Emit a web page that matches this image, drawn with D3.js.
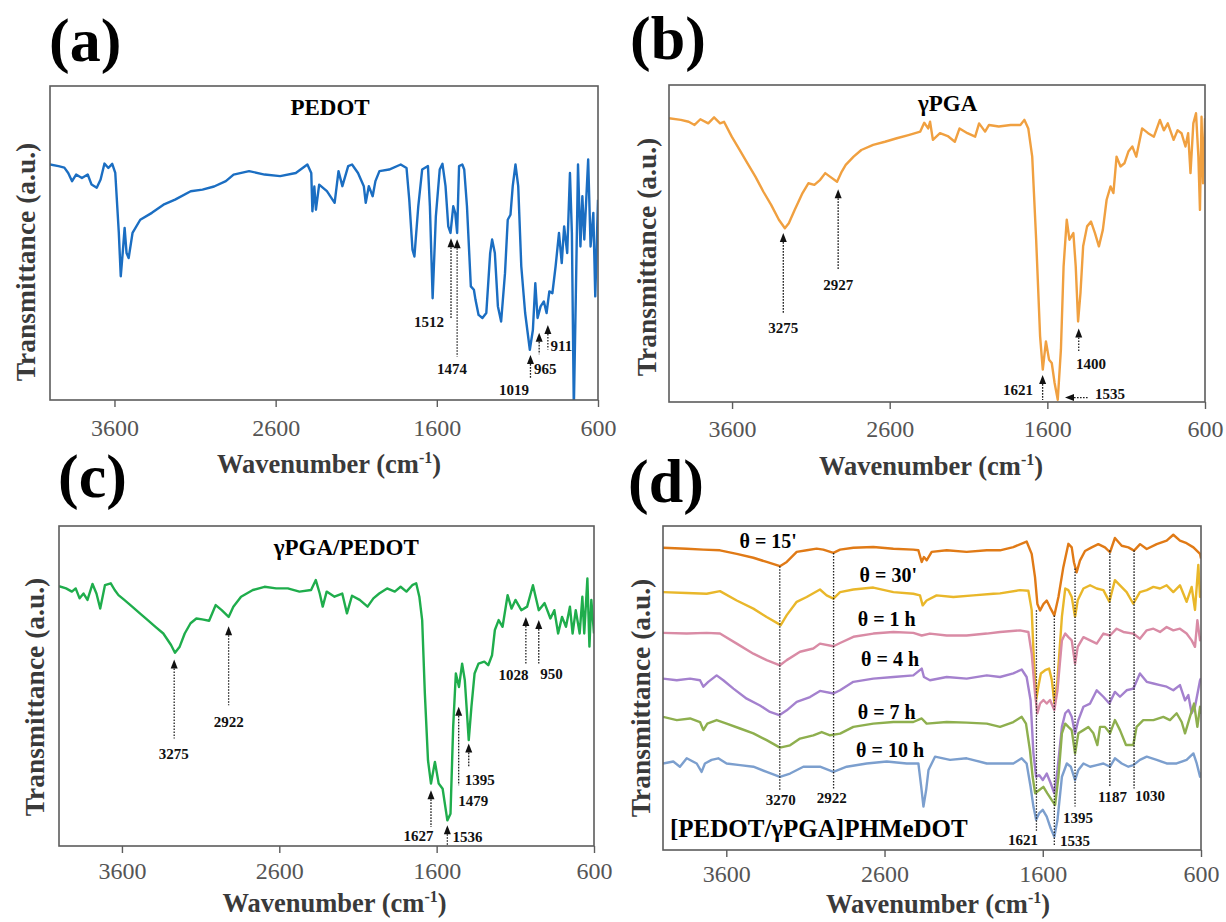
<!DOCTYPE html>
<html>
<head>
<meta charset="utf-8">
<title>FTIR spectra</title>
<style>
  body { margin:0; background:#fff; }
  svg { display:block; font-family:"Liberation Serif","Times New Roman",serif; }
  .frame { fill:none; stroke:#5c5c5c; stroke-width:1.6; }
  .tick line { stroke:#5c5c5c; stroke-width:1.4; }
  .tick text { font-size:24px; fill:#555; font-family:"Liberation Serif",serif; }
  .ttl { font-weight:bold; fill:#3a3a3a; }
  .lbl { font-size:15px; font-weight:bold; fill:#111; }
  .spec { fill:none; stroke-width:2.4; stroke-linejoin:round; }
  .dot { stroke:#222; stroke-width:1.3; stroke-dasharray:1.6,1.4; }
</style>
</head>
<body>
<svg id="chart" width="1226" height="922"></svg>
<script src="https://d3js.org/d3.v7.min.js"></script>
<script>
// ---- data (wavenumber cm-1, transmittance a.u.) ----
var xTicks = [3600, 2600, 1600, 600];

var pedot = [[4000,75],[3947,74.5],[3911,74],[3887,72.3],[3863,69.7],[3838,71.8],[3802,70.7],[3766,71.8],[3742,68.6],[3710,67.6],[3686,70.2],[3662,75.3],[3638,73.9],[3614,75.2],[3595,72.3],[3573,53.2],[3561,39.4],[3549,46.8],[3537,54.8],[3525,46.8],[3512,45.2],[3488,53.2],[3440,57.4],[3368,59.6],[3296,62.2],[3224,63.8],[3127,66.5],[3054,67],[2982,68],[2909,69.7],[2861,71.8],[2765,72.9],[2668,71.8],[2572,71.3],[2475,72.3],[2403,75],[2379,72.3],[2372,60.1],[2360,68],[2350,60.6],[2330,68.6],[2282,66.5],[2234,62.8],[2210,72.9],[2186,68.1],[2150,74.5],[2126,75],[2089,72.3],[2053,68.1],[2041,62.8],[2022,68.1],[1998,64.9],[1981,69.7],[1956,72.9],[1896,73.4],[1824,75],[1788,73.9],[1771,63.8],[1751,47.9],[1739,45.7],[1715,61.7],[1691,73.4],[1655,74.5],[1643,61.7],[1626,32.4],[1606,58.5],[1582,73.4],[1565,75.2],[1546,68.1],[1529,55.3],[1515,53.2],[1498,61.7],[1486,59.6],[1474,53.2],[1462,74.5],[1442,75],[1430,73.4],[1413,61.7],[1389,36.2],[1370,35.1],[1360,31.9],[1341,27.1],[1317,26.1],[1293,27.7],[1269,46.8],[1257,51.1],[1240,46.8],[1221,29.8],[1201,25],[1177,40.4],[1160,57.4],[1143,59],[1129,68.1],[1112,75],[1095,68.1],[1076,42.6],[1052,27.7],[1023,16],[1004,22.3],[989,37.2],[975,26.1],[956,29.8],[936,31.4],[919,27.7],[902,34.6],[883,34],[863,42.6],[842,53.2],[825,43.6],[810,55.3],[791,46.8],[774,72.3],[762,53.2],[750,-3],[738,32],[724,75],[709,48.9],[697,64.9],[685,51.1],[673,63.8],[661,76.6],[646,48.9],[629,59.6],[617,33],[600,63.8]];

var pga = [[4000,89.5],[3925,89],[3875,88.4],[3838,87.4],[3801,89.2],[3751,87.9],[3714,89.8],[3676,87.9],[3651,88.4],[3602,83.7],[3552,79.5],[3502,75.3],[3452,71.1],[3402,66.4],[3352,62.2],[3303,57.5],[3265,54.8],[3240,56.4],[3203,60.6],[3153,65.9],[3116,69],[3078,68.5],[3041,70.1],[3009,72.2],[2979,71.1],[2934,69.5],[2904,72.7],[2879,74.8],[2829,77.4],[2780,79.5],[2705,81.1],[2630,82.1],[2555,83.2],[2481,84.2],[2406,85.3],[2381,88.1],[2356,86.3],[2344,88.4],[2326,82.7],[2281,84.8],[2232,83.9],[2187,82.1],[2157,86.3],[2107,84.8],[2058,83.7],[2033,87.9],[1995,85.3],[1970,87.4],[1908,86.9],[1833,87.4],[1771,87.4],[1746,89],[1721,86.3],[1696,77.4],[1671,51.2],[1646,20.7],[1629,10.2],[1609,19.1],[1589,13.3],[1572,12.3],[1554,6],[1534,0.7],[1514,16.5],[1497,42.8],[1477,57.5],[1460,51.2],[1435,53.3],[1420,42.8],[1405,25.4],[1390,34.3],[1373,49.1],[1348,55.4],[1323,56.9],[1298,53.3],[1273,49.1],[1248,54.3],[1224,63.8],[1199,68],[1181,65.9],[1161,77.4],[1136,74.3],[1111,75.3],[1086,79],[1061,80.6],[1036,77.4],[999,86.3],[961,84.8],[924,83.7],[886,89],[861,85.7],[836,87.9],[799,82.7],[774,85.7],[749,84.8],[724,80.6],[707,84.8],[692,72.2],[674,87.9],[657,91.1],[642,77.4],[632,60.6],[622,90],[612,69],[600,89.5]];

var pgaPedot = [[4000,81.2],[3955,80.5],[3918,79.5],[3894,80.5],[3869,77.4],[3844,78.9],[3819,76.9],[3787,81.9],[3762,78.9],[3738,74.2],[3708,81.5],[3671,82.1],[3646,80],[3622,78.4],[3585,76.9],[3535,74.8],[3486,72.7],[3436,70.6],[3387,68.5],[3337,66.4],[3288,62.8],[3263,60.4],[3233,62.3],[3201,66.4],[3164,69.6],[3127,71.1],[3090,70.8],[3046,70.4],[3004,75.3],[2966,73.7],[2922,71.6],[2892,74.8],[2843,77.9],[2768,80],[2694,81],[2620,80.5],[2546,80.5],[2472,79.5],[2398,80],[2368,83.1],[2343,78.9],[2324,74.8],[2299,79.5],[2249,77.9],[2200,78.9],[2170,72.7],[2138,78.2],[2089,76.9],[2039,74.8],[2002,77.4],[1965,78.9],[1915,80.5],[1866,79.5],[1829,81],[1792,79.5],[1755,81.5],[1730,82.1],[1710,77.9],[1692,70.6],[1675,47.7],[1655,26.8],[1636,19.5],[1611,26.3],[1587,19.5],[1562,17.9],[1532,8],[1512,10.1],[1495,37.2],[1478,53.9],[1458,49.7],[1438,57],[1421,51.8],[1396,33.1],[1379,43.5],[1359,53.9],[1334,57],[1297,57.6],[1272,56.5],[1248,59.6],[1230,67.5],[1206,70.6],[1181,68.5],[1149,78.4],[1124,74.2],[1099,76.9],[1062,73.7],[1025,74.8],[988,81.5],[951,73.7],[914,75.9],[877,71.1],[852,73.7],[828,66.4],[803,71.6],[778,68.5],[753,74.8],[736,66.4],[716,73.7],[691,66.4],[674,77.9],[662,66.4],[642,83.6],[629,62.3],[617,76.9],[600,66.4]];

var t15 = [[4000,93.3],[3850,93],[3745,92.7],[3640,92.5],[3534,91.4],[3429,90.2],[3345,88.9],[3261,87.6],[3218,88.9],[3155,92],[3092,92.5],[3029,93],[2987,92.7],[2923,91.7],[2881,92.7],[2797,93.3],[2671,93.5],[2544,93],[2418,92.7],[2386,92.5],[2365,88.9],[2351,90.4],[2334,89.4],[2302,92],[2207,92.5],[2081,92],[1954,92.5],[1870,92.5],[1786,93.5],[1702,95.2],[1670,91.4],[1649,84.2],[1634,75.9],[1617,73.9],[1596,75.9],[1575,77],[1554,74.9],[1527,72.4],[1501,78.1],[1470,87.3],[1438,94.5],[1417,93.4],[1403,88.8],[1386,85.7],[1365,89.3],[1333,92.3],[1291,93.4],[1249,94.4],[1207,93.4],[1175,91.9],[1144,96.3],[1101,93.9],[1059,93.4],[1023,92.4],[985,94.4],[943,92.9],[880,94.4],[817,95.5],[775,97.3],[733,95.5],[691,94.7],[648,93.4],[606,91.4],[600,90]];
var t30 = [[4000,79.6],[3850,79.3],[3724,79.1],[3640,79.9],[3534,77],[3429,74.5],[3345,71.9],[3256,69.4],[3218,72.5],[3155,76.6],[3092,78.1],[3008,80.4],[2966,78.6],[2923,77.6],[2881,79.6],[2797,80.4],[2671,81],[2544,79.6],[2418,79.1],[2376,78.6],[2359,75.5],[2334,77],[2271,78.6],[2165,78.1],[2039,78.6],[1912,79.1],[1870,79.2],[1744,80.2],[1691,80],[1670,74.1],[1659,61.7],[1642,46.3],[1628,50.4],[1612,54.5],[1585,55.5],[1560,56],[1543,52.5],[1526,45.2],[1507,52.5],[1479,72],[1458,80.7],[1438,80.2],[1417,78.1],[1396,72],[1379,77.1],[1343,80.7],[1301,81.7],[1259,80.7],[1217,80.2],[1179,76.6],[1144,83.3],[1112,81.7],[1070,79.6],[1028,76],[986,79.6],[943,80.2],[901,81.2],[859,80.7],[817,81.7],[775,79.6],[733,81.7],[691,76.6],[659,81.2],[638,74.1],[617,88],[606,78.1],[600,80]];
var t1h = [[4000,67],[3850,66.8],[3724,67],[3640,66.8],[3534,63.7],[3429,60.6],[3345,58.6],[3261,57],[3218,58.6],[3134,61.2],[3050,62.2],[3008,63.7],[2923,62.9],[2881,63.9],[2797,65.8],[2671,66.8],[2544,67.3],[2418,67],[2365,66.2],[2313,66.8],[2207,66.2],[2081,66.2],[1954,66.8],[1870,67.3],[1744,67.8],[1691,67.3],[1670,60.6],[1649,48.3],[1634,42.2],[1617,45.2],[1596,46.3],[1575,45.2],[1554,46.3],[1527,43.2],[1507,49.3],[1479,64.7],[1458,66.8],[1438,65.7],[1417,64.7],[1396,57.5],[1379,62.7],[1343,65.7],[1301,64.7],[1259,63.7],[1217,66.8],[1175,66.2],[1133,68.3],[1091,67.3],[1028,66.8],[986,65.2],[943,67.8],[901,68.3],[859,67.3],[817,68.8],[775,67.8],[733,68.3],[691,66.8],[659,64.7],[638,62.7],[623,70.9],[606,64.7],[600,66]];
var t4h = [[4000,52.9],[3913,52.4],[3829,52.9],[3766,52.4],[3745,50.4],[3714,51.9],[3661,53.9],[3619,52.4],[3555,49.8],[3471,46.7],[3387,44.6],[3324,42.6],[3265,41.6],[3218,43.1],[3155,45.7],[3071,47.2],[3008,49.1],[2923,48.3],[2881,49.3],[2797,51.9],[2671,52.9],[2544,53.4],[2418,53.9],[2365,56],[2351,53.4],[2313,52.4],[2207,53.4],[2081,52.9],[1954,53.9],[1870,53.4],[1786,54.5],[1733,55.7],[1702,53.4],[1677,46.2],[1659,29.8],[1642,22.6],[1622,23.1],[1600,21.6],[1575,23.6],[1550,20.6],[1527,17.5],[1507,24.7],[1479,38],[1458,42.2],[1438,43.2],[1417,41.1],[1396,36],[1375,40.1],[1343,44.2],[1301,45.2],[1259,49.3],[1217,47.3],[1179,45.2],[1144,48.8],[1112,47.3],[1070,49.3],[1028,49.8],[986,54.5],[943,51.9],[901,51.4],[859,50.9],[817,50.4],[775,49.3],[733,50.9],[701,46.2],[680,47.8],[659,42.2],[638,44.2],[606,52.4],[600,53]];
var t7h = [[4000,41.1],[3913,40.1],[3829,40.6],[3766,39.5],[3745,37],[3720,39],[3661,40.1],[3598,39],[3513,37.5],[3429,36],[3345,33.9],[3261,31.6],[3197,32.3],[3134,34.4],[3050,35.4],[2997,36.4],[2944,35.4],[2881,35.9],[2797,38],[2671,39],[2544,39.5],[2418,39.5],[2365,40.6],[2334,39],[2207,39.5],[2081,39.3],[1954,39],[1870,38],[1786,39.5],[1733,41.1],[1706,39],[1681,30.8],[1664,22.6],[1648,17.5],[1622,18.5],[1596,19.5],[1571,17.5],[1543,15.4],[1522,13.9],[1501,22.6],[1479,36],[1458,39],[1438,38],[1417,37],[1396,29.8],[1375,36],[1343,37],[1312,38],[1280,36],[1255,32.4],[1238,38],[1207,38],[1175,36],[1144,40.1],[1112,37],[1074,32.4],[1028,32.4],[1007,38],[965,40.1],[901,40.1],[838,41.1],[796,40.1],[754,42.2],[722,39.5],[701,36],[670,41.1],[644,45.2],[623,38],[606,44.2],[600,42]];
var t10h = [[4000,26.7],[3935,27.3],[3893,25.7],[3850,28.3],[3787,26.7],[3756,24.1],[3735,26.7],[3693,27.8],[3651,28.3],[3598,26.7],[3513,26.2],[3429,25.7],[3345,24.1],[3261,22.6],[3197,23.6],[3113,25.7],[3008,25.7],[2923,24.1],[2839,25.7],[2713,26.7],[2586,27.3],[2460,26.7],[2386,26.7],[2368,19.5],[2354,13.4],[2337,18.5],[2322,24.7],[2281,28.8],[2186,27.8],[2081,28.3],[1954,26.7],[1870,26.7],[1786,26.7],[1733,28.3],[1702,26.7],[1677,19.5],[1659,13.4],[1642,9.3],[1622,11.4],[1600,12.4],[1575,10.3],[1550,6.7],[1527,4.1],[1507,9.3],[1479,22.6],[1448,26.7],[1423,25.7],[1396,21.6],[1375,24.7],[1343,26.7],[1301,25.7],[1259,26.2],[1217,26.7],[1175,25.7],[1144,28.3],[1101,26.7],[1059,25.7],[1028,26.2],[986,27.8],[943,28.8],[880,27.8],[817,26.7],[754,26.7],[691,27.8],[648,29.8],[627,26.7],[606,22.6],[600,24]];

var timeSeries = [t15, t30, t1h, t4h, t7h, t10h];
var timeNames = ["θ = 15'", "θ = 30'", "θ = 1 h", "θ = 4 h", "θ = 7 h", "θ = 10 h"];
var timeColors = ['#e07a16', '#e9b72a', '#d98ba5', '#a481ce', '#8eaf4e', '#7c9fce'];

// ---- peak annotations (arrow tip/foot and label placement in data units) ----
var peaksA = [
  {wn:1512, top:51.5, bot:26,   text:'1512', tx:1556, ty:24.9, anchor:'end'},
  {wn:1474, top:51.2, bot:13.8, text:'1474', tx:1506, ty:9.8},
  {wn:1019, top:14.3, bot:6.9,  text:'1019', tx:1121, ty:3.4},
  {wn:965,  top:21.4, bot:14.6, text:'965',  tx:997,  ty:9.8, anchor:'start'},
  {wn:911,  top:23.9, bot:16.1, text:'911',  tx:894,  ty:17.2, anchor:'start'}
];
var peaksB = [
  {wn:3275, top:53.3, bot:28,   text:'3275', tx:3275, ty:23.3},
  {wn:2927, top:67.1, bot:41.9, text:'2927', tx:2927, ty:37},
  {wn:1630, top:8.5,  bot:0.6,  text:'1621', tx:1691, ty:4, anchor:'end'},
  {wn:1488, tail:1340, yv:1.4,  text:'1535', tx:1298, ty:2.7, anchor:'start', dir:'left'},
  {wn:1401, top:23.2, bot:15.9, text:'1400', tx:1323, ty:12.2}
];
var peaksC = [
  {wn:3268, top:58.3, bot:33.6, text:'3275', tx:3271, ty:28.7},
  {wn:2922, top:68.7, bot:44,   text:'2922', tx:2922, ty:38.8},
  {wn:1636, top:17.4, bot:5.9,  text:'1627', tx:1715, ty:3.3},
  {wn:1532, top:6.5,  bot:0,    text:'1536', tx:1500, ty:2.8, anchor:'start'},
  {wn:1460, top:43.5, bot:19,   text:'1479', tx:1463, ty:14.1, anchor:'start'},
  {wn:1396, top:32,   bot:24.7, text:'1395', tx:1421, ty:20.8, anchor:'start'},
  {wn:1033, top:71.6, bot:57,   text:'1028', tx:1112, ty:53.4},
  {wn:951,  top:70.6, bot:57,   text:'950',  tx:870,  ty:53.9}
];
var linesD = [
  {wn:3262, top:87.6, bot:18.5, text:'3270', tx:3256, ty:15.4},
  {wn:2922, top:91.7, bot:18.5, text:'2922', tx:2934, ty:16.1},
  {wn:1640, top:74,   bot:5.6,  text:'1621', tx:1630, ty:3.1, anchor:'end'},
  {wn:1527, top:72.4, bot:1.5,  text:'1535', tx:1491, ty:2.9, anchor:'start'},
  {wn:1396, top:86.9, bot:13.4, text:'1395', tx:1377, ty:9.8},
  {wn:1176, top:92.5, bot:19.5, text:'1187', tx:1159, ty:16.4},
  {wn:1023, top:92.5, bot:19,   text:'1030', tx:922,  ty:16.6}
];
var timeLabelPos = [[3335,95.4],[2576,84.8],[2586,71.4],[2565,59.1],[2586,42.6],[2565,30.8]];

// ---- layout ----
var svg = d3.select('#chart');
var frames = {
  a: {x0:50,  y0:86,  x1:598,  y1:400, tick:428, title:464, tdx:5,  ylx:25,  yly:262, letter:[49,61],  lw:2.4},
  b: {x0:669, y0:85,  x1:1205, y1:402, tick:429, title:466, tdx:-6, ylx:646, yly:257, letter:[630,59], lw:2.4},
  c: {x0:59,  y0:526, x1:594,  y1:846, tick:871, title:903, tdx:8,  ylx:34,  yly:697, letter:[58,497], lw:2.4},
  d: {x0:663, y0:526, x1:1201, y1:850, tick:874, title:904, tdx:6,  ylx:640, yly:698, letter:[628,502], lw:2.1}
};

function drawPanel(key, series, name) {
  var f = frames[key];
  var x = d3.scaleLinear().domain([4000, 600]).range([f.x0, f.x1]);
  var y = d3.scaleLinear().domain([0, 100]).range([f.y1, f.y0]);
  var g = svg.append('g');

  svg.append('clipPath').attr('id', 'clip-' + key)
    .append('rect').attr('x', f.x0).attr('y', f.y0)
    .attr('width', f.x1 - f.x0).attr('height', f.y1 - f.y0);

  var line = d3.line().x(d => x(d[0])).y(d => y(d[1]));
  g.append('g').attr('clip-path', 'url(#clip-' + key + ')')
    .selectAll('path').data(series).join('path')
    .attr('class', 'spec')
    .attr('stroke-width', f.lw)
    .attr('stroke', d => d.color)
    .attr('d', d => line(d.values));

  var axis = g.append('g').attr('transform', 'translate(0,' + f.y1 + ')')
    .call(d3.axisBottom(x).tickValues(xTicks).tickSize(7).tickFormat(d3.format('d')));
  axis.select('.domain').remove();
  axis.selectAll('text').attr('y', f.tick - f.y1).attr('dy', '0.35em');

  g.append('rect').attr('class', 'frame')
    .attr('x', f.x0).attr('y', f.y0)
    .attr('width', f.x1 - f.x0).attr('height', f.y1 - f.y0);

  var xt = g.append('text').attr('class', 'ttl').attr('font-size', 26.5)
    .attr('x', (f.x0 + f.x1) / 2 + f.tdx).attr('y', f.title).attr('dy', '0.35em')
    .attr('text-anchor', 'middle');
  xt.append('tspan').text('Wavenumber (cm');
  xt.append('tspan').attr('font-size', 16).attr('dy', -10).text('-1');
  xt.append('tspan').attr('dy', 10).text(')');

  g.append('text').attr('class', 'ttl').attr('font-size', 27.5)
    .attr('transform', 'translate(' + f.ylx + ',' + f.yly + ') rotate(-90)')
    .attr('text-anchor', 'middle').attr('dy', '0.35em')
    .text('Transmittance (a.u.)');

  g.append('text').attr('font-size', 62).attr('font-weight', 'bold')
    .attr('x', f.letter[0]).attr('y', f.letter[1]).text('(' + key + ')');

  if (name) {
    g.append('text').attr('font-size', 23).attr('font-weight', 'bold')
      .attr('text-anchor', 'middle')
      .attr('x', f.x0 + name.fx * (f.x1 - f.x0))
      .attr('y', f.y1 - name.fy * (f.y1 - f.y0)).attr('dy', '0.35em')
      .text(name.text);
  }
  return {g: g, x: x, y: y};
}

function annotate(p, list, arrows) {
  list.forEach(function (a) {
    if (a.dir === 'left') {
      var py = p.y(a.yv), tip = p.x(a.wn);
      p.g.append('path').attr('d', 'M' + tip + ',' + py + ' l9,-3.5 l0,7 z').attr('fill', '#111');
      p.g.append('line').attr('class', 'dot')
        .attr('x1', tip + 9).attr('x2', p.x(a.tail)).attr('y1', py).attr('y2', py);
    } else {
      var px = p.x(a.wn), pt = p.y(a.top);
      if (arrows) {
        p.g.append('path').attr('d', 'M' + px + ',' + pt + ' l-3.5,9 l7,0 z').attr('fill', '#111');
        pt += 9;
      }
      p.g.append('line').attr('class', 'dot')
        .attr('x1', px).attr('x2', px).attr('y1', pt).attr('y2', p.y(a.bot));
    }
    p.g.append('text').attr('class', 'lbl')
      .attr('x', p.x(a.tx)).attr('y', p.y(a.ty)).attr('dy', '0.35em')
      .attr('text-anchor', a.anchor || 'middle').text(a.text);
  });
}

var pa = drawPanel('a', [{values: pedot, color: '#1b6ec2'}], {text: 'PEDOT', fx: 0.511, fy: 0.934});
annotate(pa, peaksA, true);

var pb = drawPanel('b', [{values: pga, color: '#f0a040'}], {text: 'γPGA', fx: 0.52, fy: 0.942});
annotate(pb, peaksB, true);

var pc = drawPanel('c', [{values: pgaPedot, color: '#1fad4c'}], {text: 'γPGA/PEDOT', fx: 0.537, fy: 0.933});
annotate(pc, peaksC, true);

var pd = drawPanel('d', timeSeries.map((s, i) => ({values: s, color: timeColors[i]})), null);
annotate(pd, linesD, false);

pd.g.selectAll('.tlab').data(timeNames).join('text')
  .attr('class', 'tlab').attr('font-size', 20).attr('font-weight', 'bold')
  .attr('text-anchor', 'middle').attr('dy', '0.35em')
  .attr('x', (d, i) => pd.x(timeLabelPos[i][0]))
  .attr('y', (d, i) => pd.y(timeLabelPos[i][1]))
  .text(d => d);

pd.g.append('text').attr('font-size', 25).attr('font-weight', 'bold')
  .attr('x', pd.x(3956)).attr('y', pd.y(6.7)).attr('dy', '0.35em')
  .text('[PEDOT/γPGA]PHMeDOT');
</script>
</body>
</html>
